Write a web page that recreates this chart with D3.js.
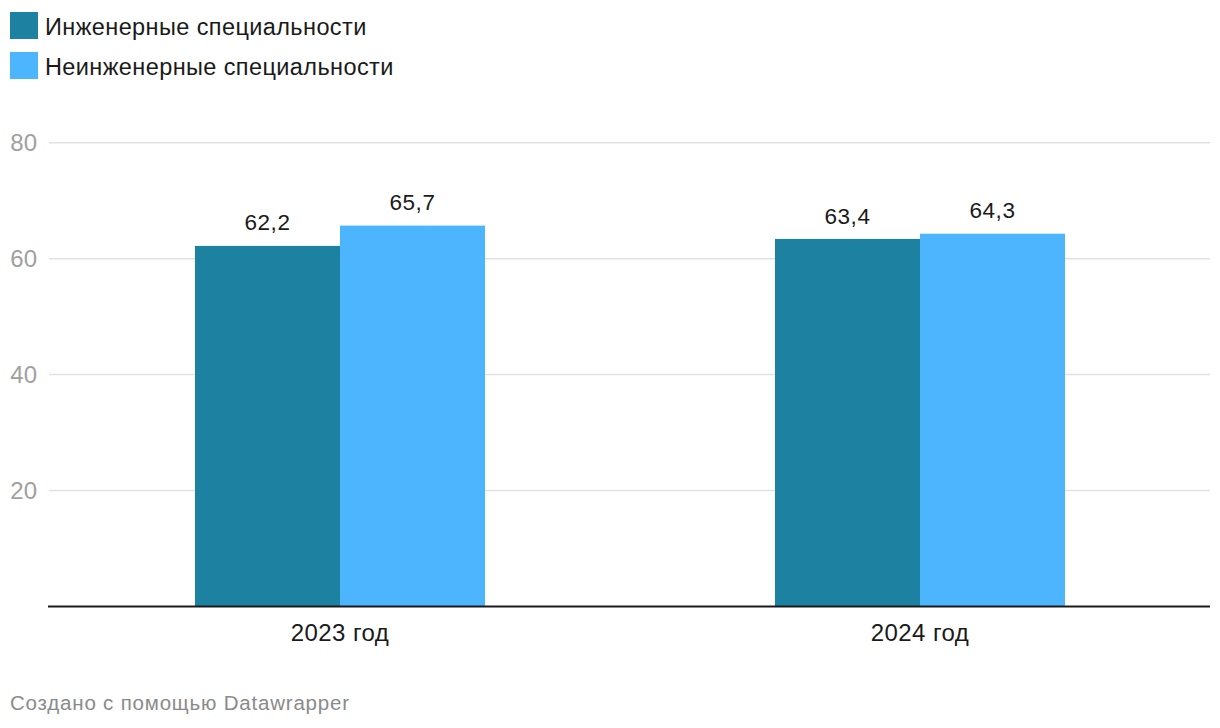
<!DOCTYPE html>
<html><head><meta charset="utf-8">
<script src="https://cdn.jsdelivr.net/npm/d3@7"></script>
<style>
html,body{margin:0;padding:0;background:#fff;}
svg{display:block;font-family:"Liberation Sans",Arial,Helvetica,sans-serif;}
</style></head>
<body>
<svg id="chart" width="1220" height="728"></svg>
<script>
const categories = ["2023 год", "2024 год"];
const seriesNames = ["Инженерные специальности", "Неинженерные специальности"];
const engineering = [62.2, 63.4];
const nonEngineering = [65.7, 64.3];
const yTicks = [20, 40, 60, 80];
const colors = ["#1d81a2", "#4db4fe"];
const footer = "Создано с помощью Datawrapper";

(function () {
const svg = d3.select("#chart");
const mLeft = 48, mRight = 1210, mTop = 142.7, mBottom = 606.5;

const x = d3.scaleBand().domain(categories).range([mLeft + 2, mRight]).padding(0);
const sub = d3.scaleBand().domain([0, 1]).range([0, x.bandwidth()]).paddingOuter(1).paddingInner(0);
const y = d3.scaleLinear().domain([0, 80]).range([mBottom, mTop]);

// gridlines
svg.append("g").selectAll("line").data(yTicks).join("line")
  .attr("x1", mLeft + 1).attr("x2", mRight)
  .attr("y1", d => y(d)).attr("y2", d => y(d))
  .attr("stroke", "#e2e2e2").attr("stroke-width", 1.5);

// y labels
svg.append("g").selectAll("text").data(yTicks).join("text")
  .attr("x", 37).attr("y", d => y(d) + 8.3)
  .attr("text-anchor", "end")
  .attr("fill", "#a0a0a0").attr("font-size", 24)
  .text(d => d);

const data = categories.map((c, i) => ({c, vals: [engineering[i], nonEngineering[i]]}));

const g = svg.append("g");
data.forEach(d => {
  d.vals.forEach((v, j) => {
    g.append("rect")
      .attr("x", x(d.c) + sub(j))
      .attr("y", y(v))
      .attr("width", sub.bandwidth())
      .attr("height", y(0) - y(v))
      .attr("fill", colors[j]);
    g.append("text")
      .attr("x", x(d.c) + sub(j) + sub.bandwidth() / 2)
      .attr("y", y(v) - 15.4)
      .attr("text-anchor", "middle")
      .attr("fill", "#1a1a1a").attr("font-size", 22.5).attr("letter-spacing", 0.6)
      .text(d3.format(".1f")(v).replace(".", ","));
  });
  svg.append("text")
    .attr("x", x(d.c) + x.bandwidth() / 2)
    .attr("y", 641)
    .attr("text-anchor", "middle")
    .attr("fill", "#1a1a1a").attr("font-size", 24).attr("letter-spacing", 0.4)
    .text(d.c);
});

// baseline
svg.append("line").attr("x1", mLeft).attr("x2", mRight)
  .attr("y1", y(0)).attr("y2", y(0))
  .attr("stroke", "#1a1a1a").attr("stroke-width", 2);

// legend
const leg = svg.append("g");
seriesNames.forEach((s, i) => {
  leg.append("rect").attr("x", 10).attr("y", 12 + i * 40).attr("width", 28).attr("height", 27).attr("fill", colors[i]);
  leg.append("text").attr("x", 45).attr("y", 35 + i * 40)
    .attr("fill", "#1a1a1a").attr("font-size", 23.5).attr("letter-spacing", 0.4).text(s);
});

svg.append("text").attr("x", 10).attr("y", 710)
  .attr("fill", "#8a8a8a").attr("font-size", 20.5).attr("letter-spacing", 0.8).text(footer);
})();
</script>
</body></html>
